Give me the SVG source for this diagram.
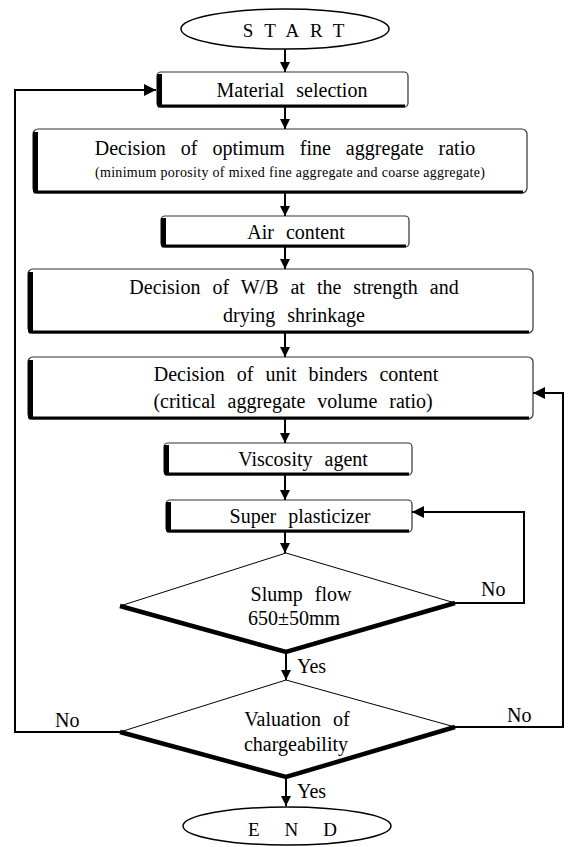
<svg xmlns="http://www.w3.org/2000/svg" width="568" height="847" viewBox="0 0 568 847">
<defs>
<marker id="ah" viewBox="0 0 10 10" refX="10" refY="5" markerWidth="10" markerHeight="10" markerUnits="userSpaceOnUse" orient="auto">
<path d="M0,0 L10,5 L0,10 Z" fill="#000"/>
</marker>
<marker id="ahb" viewBox="0 0 10 10" refX="10" refY="5" markerWidth="12" markerHeight="12" markerUnits="userSpaceOnUse" orient="auto">
<path d="M0,0 L10,5 L0,10 Z" fill="#000"/>
</marker>
</defs>
<style>
.t{font-family:"Liberation Serif","Times New Roman",serif;font-size:20px;fill:#000;text-anchor:middle;word-spacing:7px}
.s{font-family:"Liberation Serif","Times New Roman",serif;font-size:14px;fill:#000;text-anchor:middle}
.l{font-family:"Liberation Serif","Times New Roman",serif;font-size:20px;fill:#000}
.box{fill:#fff;stroke:#333;stroke-width:1.2}
.sh{fill:none;stroke:#000;stroke-width:3}
.bar{fill:none;stroke:#000;stroke-width:5}
.dthin{fill:#fff;stroke:#000;stroke-width:1}
.dthick{fill:none;stroke:#000;stroke-width:4.5;stroke-linejoin:miter}
.ell{fill:#fff;stroke:#000;stroke-width:1.5}
.c{fill:none;stroke:#000;stroke-width:2}
</style>
<g id="start">
<ellipse class="ell" cx="285" cy="29" rx="104" ry="20"/>
<text class="l" x="299" y="37" style="font-size:19px;letter-spacing:11px" text-anchor="middle">START</text>
</g>
<g id="material">
<rect class="box" x="157" y="72" width="251" height="35" rx="4"/>
<path class="bar" d="M159.5,74 V106.5"/>
<path class="sh" d="M158,106 H405"/>
<text class="t" x="292" y="97">Material selection</text>
</g>
<g id="fineagg">
<rect class="box" x="33" y="129" width="494" height="64" rx="5"/>
<path class="bar" d="M35.5,132 V192.5"/>
<path class="sh" d="M34,192 H523"/>
<text class="t" x="285" y="155" style="word-spacing:10px">Decision of optimum fine aggregate ratio</text>
<text class="s" x="290" y="177" textLength="390" lengthAdjust="spacing">(minimum porosity of mixed fine aggregate and coarse aggregate)</text>
</g>
<g id="air">
<rect class="box" x="161" y="216" width="248" height="31" rx="4"/>
<path class="bar" d="M163.5,218 V246.5"/>
<path class="sh" d="M162,246 H406"/>
<text class="t" x="296" y="239">Air content</text>
</g>
<g id="wb">
<rect class="box" x="28" y="269" width="505" height="64" rx="5"/>
<path class="bar" d="M30.5,272 V332.5"/>
<path class="sh" d="M29,332 H529"/>
<text class="t" x="294" y="294">Decision of W/B at the strength and</text>
<text class="t" x="294" y="322">drying shrinkage</text>
</g>
<g id="binders">
<rect class="box" x="28" y="357" width="505" height="62" rx="5"/>
<path class="bar" d="M30.5,360 V418.5"/>
<path class="sh" d="M29,418 H529"/>
<text class="t" x="296" y="381">Decision of unit binders content</text>
<text class="t" x="293" y="408">(critical aggregate volume ratio)</text>
</g>
<g id="viscosity">
<rect class="box" x="164" y="443" width="248" height="32" rx="4"/>
<path class="bar" d="M166.5,445 V474.5"/>
<path class="sh" d="M165,474 H409"/>
<text class="t" x="303" y="466">Viscosity agent</text>
</g>
<g id="superp">
<rect class="box" x="166" y="500" width="246" height="32" rx="4"/>
<path class="bar" d="M168.5,502 V531.5"/>
<path class="sh" d="M167,531 H409"/>
<text class="t" x="300" y="523">Super plasticizer</text>
</g>
<g id="slump">
<path class="dthin" d="M286,553 L455,603 L286,652 L120,606 Z"/>
<path class="dthick" d="M120,606 L286,652 L455,603"/>
<text class="t" x="301" y="601">Slump flow</text>
<text class="t" x="294" y="625" style="word-spacing:0">650±50mm</text>
</g>
<g id="valuation">
<path class="dthin" d="M286,680 L455,727 L286,777 L120,732 Z"/>
<path class="dthick" d="M120,732 L286,777 L455,727"/>
<text class="t" x="297" y="726">Valuation of</text>
<text class="t" x="296" y="751">chargeability</text>
</g>
<g id="end">
<ellipse class="ell" cx="287" cy="826" rx="104" ry="19"/>
<text class="l" x="305" y="836" style="font-size:19px;letter-spacing:25px" text-anchor="middle">END</text>
</g>
<g id="connectors">
<path class="c" d="M285,49 V72" marker-end="url(#ah)"/>
<path class="c" d="M285,107 V129" marker-end="url(#ah)"/>
<path class="c" d="M285,193 V216" marker-end="url(#ah)"/>
<path class="c" d="M285,247 V269" marker-end="url(#ah)"/>
<path class="c" d="M285,333 V357" marker-end="url(#ah)"/>
<path class="c" d="M285,419 V443" marker-end="url(#ah)"/>
<path class="c" d="M285,475 V500" marker-end="url(#ah)"/>
<path class="c" d="M285,532 V553" marker-end="url(#ah)"/>
<path class="c" d="M286,652 V680" marker-end="url(#ah)"/>
<path class="c" d="M286,777 V806" marker-end="url(#ah)"/>
<path class="c" d="M455,603 H524 V512 H412" marker-end="url(#ahb)"/>
<path class="c" d="M120,732 H15 V90 H156" marker-end="url(#ahb)"/>
<path class="c" d="M455,727 H563 V393 H533" marker-end="url(#ahb)"/>
<text class="l" x="481" y="596">No</text>
<text class="l" x="297" y="673">Yes</text>
<text class="l" x="55" y="727">No</text>
<text class="l" x="507" y="722">No</text>
<text class="l" x="297" y="798">Yes</text>
</g>
</svg>
